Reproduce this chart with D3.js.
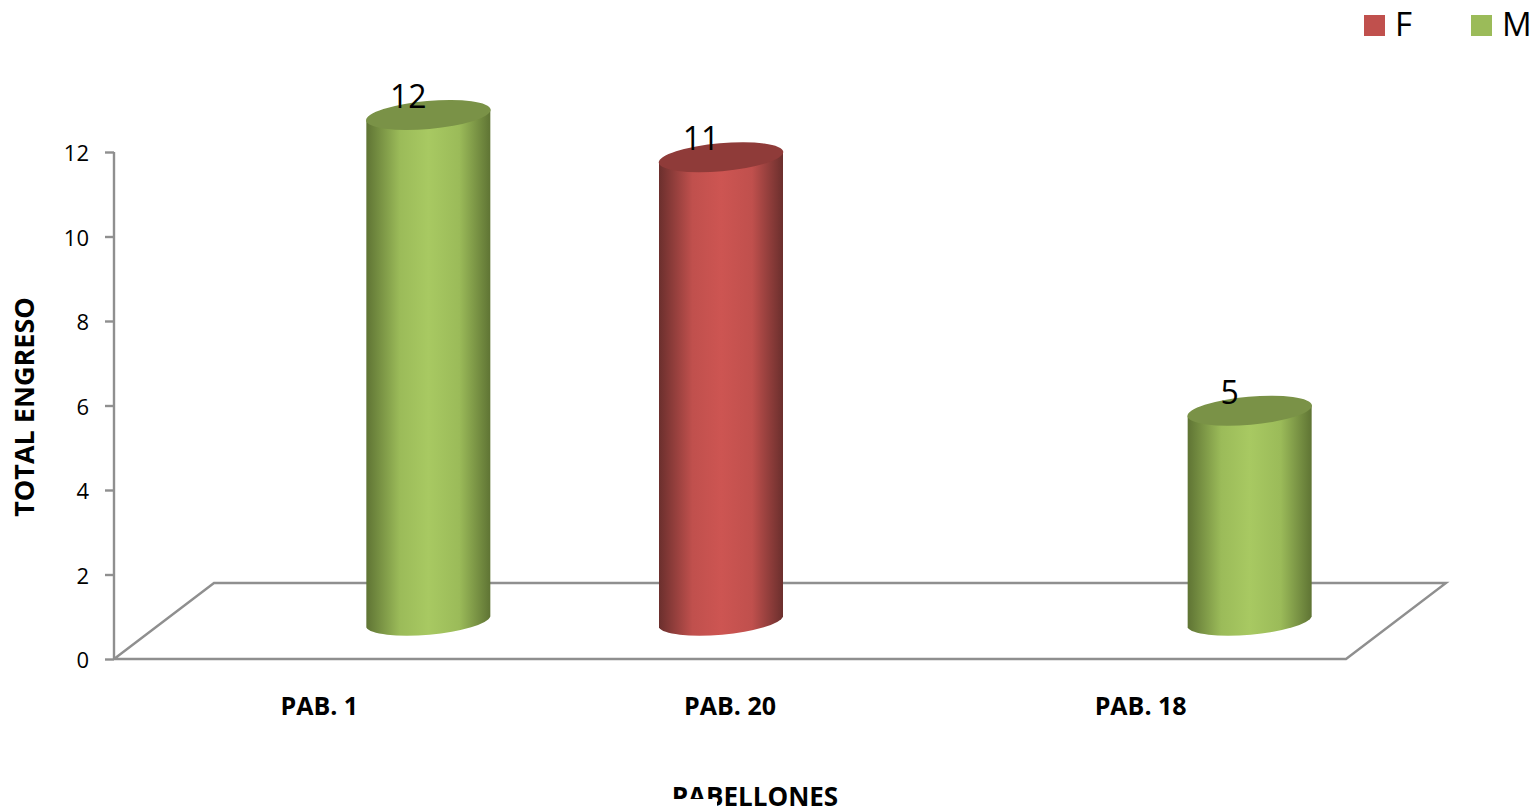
<!DOCTYPE html>
<html><head><meta charset="utf-8">
<script src="https://cdn.jsdelivr.net/npm/d3@7"></script>
<style>html,body{margin:0;background:#fff;overflow:hidden}svg{display:block}text{font-family:"Open Sans",sans-serif;fill:#000}</style>
</head><body><svg id="c" width="1536" height="809"></svg>
<script>
const categories = ["PAB. 1", "PAB. 20", "PAB. 18"];
const seriesNames = ["F", "M"];
const valuesF = [0, 11, 0];
const valuesM = [12, 0, 5];
const yTicks = [0, 2, 4, 6, 8, 10, 12];
const xTitle = "PABELLONES";
const yTitle = "TOTAL ENGRESO";
const seriesColors = {F:["#c0504d","#cd5552","#6b2f2d"], M:["#9bbb59","#a8c962","#5f7434"]};
const topColors = {F:"#8f3b39", M:"#7a9247"};

const svg = d3.select("#c");
const x = d3.scaleBand().domain(categories).range([114,1346]);
const s = d3.scalePoint().domain(seriesNames).range([-59,59]);
const y = d3.scaleLinear().domain([0,12]).range([659,152]);
const depthX = 100, depthY = 76, cylW = 124, ry = 14, tilt = -5;
const grey = "#8f8f8f";

const defs = svg.append("defs");
seriesNames.forEach(n=>{
  const [b,l,d] = seriesColors[n];
  const g = defs.append("linearGradient").attr("id","g"+n);
  [[0,d],[.27,b],[.5,l],[.75,b],[1,d]].forEach(([o,c])=>g.append("stop").attr("offset",o).attr("stop-color",c));
});

// floor
svg.append("path").attr("fill","none").attr("stroke",grey).attr("stroke-width",2.4)
  .attr("d",d3.line()([[114,y(0)],[114+depthX,y(0)-depthY],[1346+depthX,y(0)-depthY],[1346,y(0)],[114,y(0)]]));

// y axis
const yAxis = svg.append("g").attr("transform","translate(114,0)")
  .call(d3.axisLeft(y).tickValues(yTicks).tickSize(9).tickPadding(16));
yAxis.selectAll("path,line").attr("stroke",grey).attr("stroke-width",2.4);
yAxis.select(".domain").attr("d",`M0,${y(12)}V${y(0)}`);
yAxis.selectAll("text").attr("font-size",22).attr("font-family",'"Open Sans",sans-serif').attr("y",1.5);

// x labels
svg.append("g").selectAll("text").data(categories).join("text")
  .attr("x",d=>x(d)+x.bandwidth()/2).attr("y",715).attr("text-anchor","middle")
  .attr("font-size",25).attr("font-weight",700).text(d=>d);

// titles
svg.append("text").attr("x",755).attr("y",806).attr("text-anchor","middle").attr("font-size",26).attr("font-weight",700).text(xTitle);
svg.append("rect").attr("x",664).attr("y",799).attr("width",53).attr("height",10).attr("fill","#fff");
svg.append("text").attr("transform","translate(34,407) rotate(-90)").attr("text-anchor","middle").attr("font-size",27).attr("font-weight",700).text(yTitle);

// cylinders
const rows = [];
seriesNames.forEach(n=>{
  const vals = n==="F"?valuesF:valuesM;
  categories.forEach((c,i)=>{ if(vals[i]>0) rows.push({n,c,v:vals[i]}); });
});
const shiftX = depthX/2, shiftY = depthY/2 - 1;
const dy = Math.tan(-tilt*Math.PI/180)*cylW/2;
rows.forEach(r=>{
  const cx = x(r.c)+x.bandwidth()/2+s(r.n)+shiftX;
  const top = y(r.v)-shiftY, bot = y(0)-shiftY;
  const g = svg.append("g");
  const L = cx-cylW/2, R = cx+cylW/2;
  g.append("path").attr("fill",`url(#g${r.n})`)
   .attr("d",`M${L},${top+dy}L${R},${top-dy}L${R},${bot-dy}A${cylW/2+.5},${ry} ${tilt} 0 1 ${L},${bot+dy}Z`);
  g.append("ellipse").attr("cx",cx).attr("cy",top).attr("rx",cylW/2+.5).attr("ry",ry)
   .attr("transform",`rotate(${tilt} ${cx} ${top})`).attr("fill",topColors[r.n]);
  svg.append("text").attr("class","lbl").attr("x",cx-20).attr("y",top-7).attr("text-anchor","middle")
   .attr("font-size",32).text(r.v);
});

// legend
const lg = svg.append("g");
const lx = d3.scalePoint().domain(seriesNames).range([1364,1471]);
seriesNames.forEach(n=>{
  lg.append("rect").attr("x",lx(n)).attr("y",15).attr("width",21).attr("height",21).attr("fill",seriesColors[n][0]);
  lg.append("text").attr("x",lx(n)+31).attr("y",36).attr("font-size",33).text(n);
});
</script></body></html>
